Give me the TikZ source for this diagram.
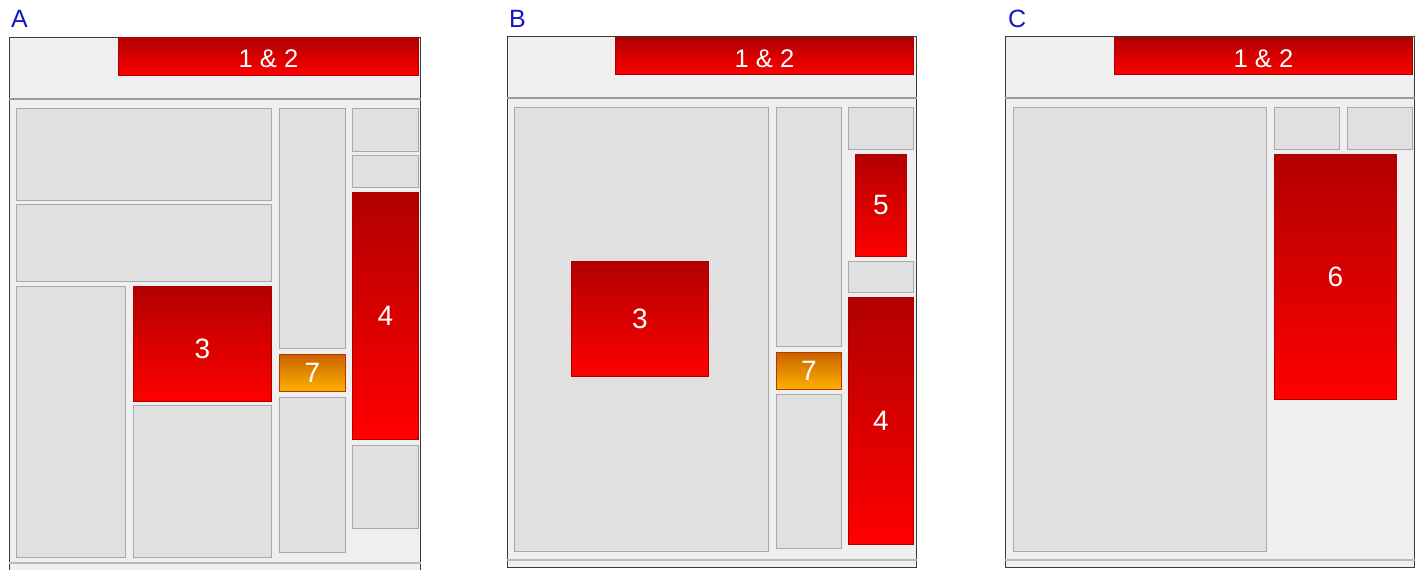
\documentclass[tikz,border=0pt]{standalone}
\usepackage{fontspec}
\setmainfont{Liberation Sans}
\definecolor{panelbg}{HTML}{EFEFEF}
\definecolor{boxfill}{HTML}{E0E0E0}
\definecolor{boxline}{HTML}{A8A8A8}
\definecolor{framecol}{HTML}{3A3A3A}
\definecolor{hdrline}{HTML}{9A9A9A}
\definecolor{botline}{HTML}{BBBBBB}
\definecolor{lblblue}{RGB}{20,20,200}
\definecolor{redtop}{RGB}{178,0,0}
\definecolor{redbot}{RGB}{255,0,0}
\definecolor{redline}{RGB}{170,0,0}
\definecolor{ortop}{RGB}{200,100,0}
\definecolor{orbot}{RGB}{255,176,0}
\definecolor{orline}{RGB}{190,50,0}
\tikzset{
  x=1pt, y=-1pt,
  base/.style={rectangle, inner sep=0pt, outer sep=0pt, anchor=north west, line width=1pt},
  gbox/.style={base, fill=boxfill, draw=boxline},
  rbox/.style={base, top color=redtop, bottom color=redbot, draw=redline, text=white, font=\fontsize{28}{32}\selectfont},
  obox/.style={base, top color=ortop, bottom color=orbot, draw=orline, text=white, font=\fontsize{28}{32}\selectfont},
  hbox/.style={rbox, font=\fontsize{25.5}{30}\selectfont, text height=22.5pt, text depth=0pt},
  lower3/.style={text height=28pt, text depth=0pt},
  panel/.style={base, fill=panelbg, draw=framecol, line width=1.2pt},
  plabel/.style={text=lblblue, font=\fontsize{25}{30}\selectfont, anchor=west, inner sep=0pt},
}
\newcommand{\bx}[7]{\node[#1, minimum width={#5pt-#3pt-1pt}, minimum height={#6pt-#4pt-1pt}] (#2) at (#3+0.5,#4+0.5) {#7};}
\begin{document}
\begin{tikzpicture}
\useasboundingbox (0,0) rectangle (1416,570);
\clip (0,0) rectangle (1416,570);
% ---------- Panel A ----------
\node[plabel] (labA) at (11,19) {A};
\bx{panel}{frA}{9}{37}{421}{580}{}
\coordinate (hA1) at (9,99); \coordinate (hA2) at (421,99);
\draw[hdrline, line width=1.2pt] (hA1) -- (hA2);
\coordinate (bA1) at (9,563); \coordinate (bA2) at (421,563);
\draw[botline, line width=1.5pt] (bA1) -- (bA2);
\bx{hbox}{hA}{118}{37}{419}{76}{1 \& 2}
\bx{gbox}{a1}{16}{108}{272}{201}{}
\bx{gbox}{a2}{16}{204}{272}{282}{}
\bx{gbox}{a3}{16}{286}{126}{558}{}
\bx{rbox,lower3}{a4}{133}{286}{272}{402}{3}
\bx{gbox}{a5}{133}{405}{272}{558}{}
\bx{gbox}{a6}{279}{108}{346}{349}{}
\bx{obox}{a7}{279}{354}{346}{392}{7}
\bx{gbox}{a8}{279}{397}{346}{553}{}
\bx{gbox}{a9}{352}{108}{419}{152}{}
\bx{gbox}{a10}{352}{155}{419}{188}{}
\bx{rbox}{a11}{352}{192}{419}{440}{4}
\bx{gbox}{a12}{352}{445}{419}{529}{}
% ---------- Panel B ----------
\node[plabel] (labB) at (509,19) {B};
\bx{panel}{frB}{507}{36}{917}{568}{}
\coordinate (hB1) at (507,98); \coordinate (hB2) at (917,98);
\draw[hdrline, line width=1.2pt] (hB1) -- (hB2);
\coordinate (bB1) at (507,560); \coordinate (bB2) at (917,560);
\draw[botline, line width=1.5pt] (bB1) -- (bB2);
\bx{hbox}{hB}{615}{37}{914}{75}{1 \& 2}
\bx{gbox}{b1}{514}{107}{769}{552}{}
\bx{rbox}{b2}{571}{261}{709}{377}{3}
\bx{gbox}{b3}{776}{107}{842}{347}{}
\bx{obox}{b4}{776}{352}{842}{390}{7}
\bx{gbox}{b5}{776}{394}{842}{549}{}
\bx{gbox}{b6}{848}{107}{914}{150}{}
\bx{rbox}{b7}{855}{154}{907}{257}{5}
\bx{gbox}{b8}{848}{261}{914}{293}{}
\bx{rbox}{b9}{848}{297}{914}{545}{4}
% ---------- Panel C ----------
\node[plabel] (labC) at (1008,19) {C};
\bx{panel}{frC}{1005}{36}{1415}{568}{}
\coordinate (hC1) at (1005,98); \coordinate (hC2) at (1415,98);
\draw[hdrline, line width=1.2pt] (hC1) -- (hC2);
\coordinate (bC1) at (1005,560); \coordinate (bC2) at (1415,560);
\draw[botline, line width=1.5pt] (bC1) -- (bC2);
\bx{hbox}{hC}{1114}{37}{1413}{75}{1 \& 2}
\bx{gbox}{c1}{1013}{107}{1267}{552}{}
\bx{gbox}{c2}{1274}{107}{1340}{150}{}
\bx{gbox}{c3}{1347}{107}{1413}{150}{}
\bx{rbox}{c4}{1274}{154}{1397}{400}{6}
\end{tikzpicture}
\end{document}
